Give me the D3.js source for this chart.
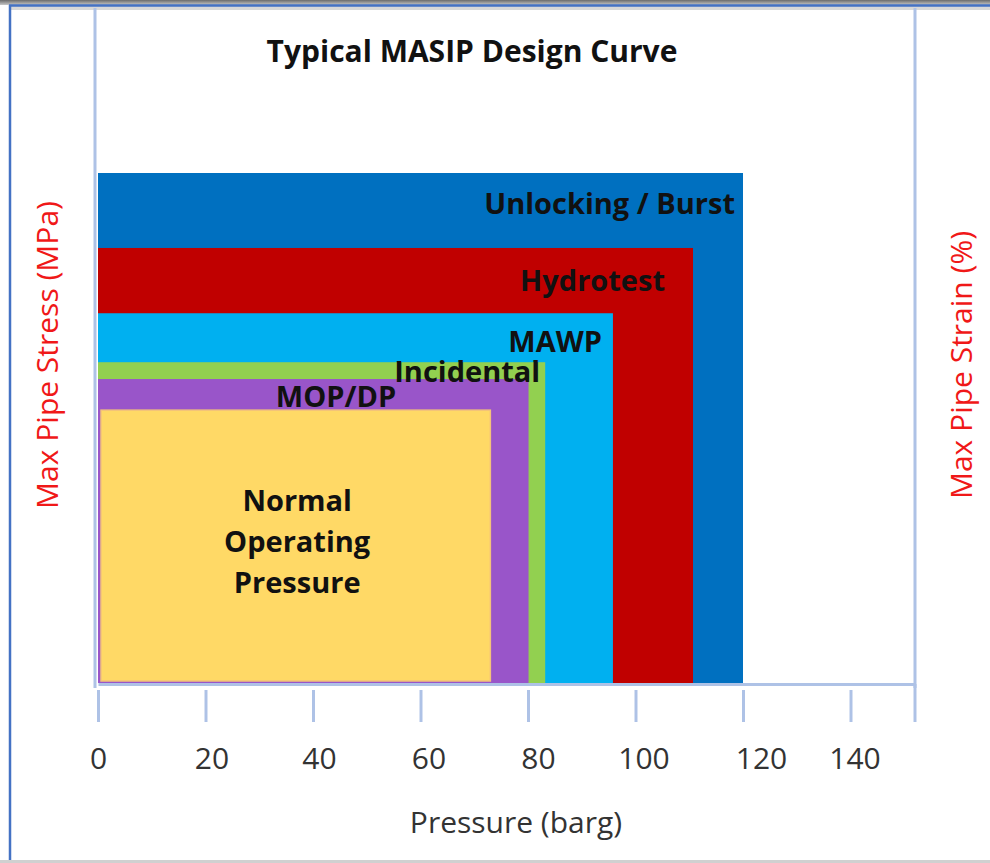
<!DOCTYPE html>
<html><head><meta charset="utf-8">
<script src="https://cdn.jsdelivr.net/npm/d3@7"></script>
<style>
html,body{margin:0;padding:0;background:#fff;}
svg{display:block;}
text{font-family:"Open Sans",Lato,sans-serif;}
</style></head>
<body>
<svg id="c" width="990" height="863"></svg>
<script>
// ---- data ----
const zones = ["Unlocking / Burst","Hydrotest","MAWP","Incidental","MOP/DP","Normal Operating Pressure"];
const zonePressure = [120, 110.7, 95.8, 83.2, 80.1, 73.0];     // barg (right edge)
const zoneStress   = [100, 85.3, 72.5, 62.9, 59.6, 53.5];      // relative stress level (top edge)
const zoneColors   = ["#0070C0","#C00000","#00B0F0","#92D050","#9955C9","#FFD966"];
const xTicks = [0,20,40,60,80,100,120,140];
const titleText = "Typical MASIP Design Curve";
const xTitle = "Pressure (barg)";
const yTitleLeft = "Max Pipe Stress (MPa)";
const yTitleRight = "Max Pipe Strain (%)";

// ---- layout ----
const svg = d3.select("#c");
const W = 990, H = 863;
const x = d3.scaleLinear().domain([0, 152]).range([98, 915]);
const y = d3.scaleLinear().domain([0, 100]).range([683, 173]);

// outer frame
svg.append("rect").attr("x",0).attr("y",0).attr("width",W).attr("height",H).attr("fill","#fff");
const g0 = svg.append("defs").append("linearGradient").attr("id","topg").attr("x1",0).attr("x2",0).attr("y1",0).attr("y2",1);
g0.append("stop").attr("offset","0").attr("stop-color","#6b6b6b");
g0.append("stop").attr("offset","1").attr("stop-color","#c8c8c8");
svg.append("rect").attr("x",0).attr("y",0).attr("width",W).attr("height",5).attr("fill","url(#topg)");
svg.append("rect").attr("x",9).attr("y",6).attr("width",W-9).attr("height",4).attr("fill","#d8d8d8");
svg.append("line").attr("x1",9).attr("x2",W).attr("y1",5.5).attr("y2",5.5).attr("stroke","#4472C4").attr("stroke-width",2.5);
svg.append("line").attr("x1",10).attr("x2",10).attr("y1",5).attr("y2",H).attr("stroke","#4472C4").attr("stroke-width",2.5);
svg.append("line").attr("x1",0).attr("x2",W).attr("y1",861.5).attr("y2",861.5).attr("stroke","#d0d0d0").attr("stroke-width",3);

const axisCol = "#aec2e6";
// vertical frame lines (left and right plot edges)
svg.append("line").attr("x1",x(0)-3).attr("x2",x(0)-3).attr("y1",8).attr("y2",688).attr("stroke",axisCol).attr("stroke-width",3);
svg.append("line").attr("x1",x.range()[1]).attr("x2",x.range()[1]).attr("y1",8).attr("y2",688).attr("stroke",axisCol).attr("stroke-width",3);

// zone rectangles
const zg = svg.append("g");
zones.forEach((z,i)=>{
  const last = i === zones.length-1;
  zg.append("rect")
    .attr("x", x(0) + (last?3:0))
    .attr("y", y(zoneStress[i]))
    .attr("width", x(zonePressure[i]) - x(0) - (last?3:0))
    .attr("height", y(0) - y(zoneStress[i]) - (last?2:0))
    .attr("fill", zoneColors[i])
    .attr("stroke", last ? "#f3c27a" : "none")
    .attr("stroke-width", last ? 1.5 : 0);
});

// x axis
const axis = d3.axisBottom(x).tickValues(xTicks).tickSize(32).tickSizeOuter(0).tickFormat(d3.format("d"));
const ax = svg.append("g").attr("transform","translate(0,684)").call(axis);
ax.select(".domain").attr("stroke",axisCol).attr("stroke-width",3);
ax.selectAll(".tick line").attr("stroke",axisCol).attr("stroke-width",3).attr("y1",6).attr("y2",38);
const labelDx = [0, 6, 6, 8, 10, 8, 18, 4];
ax.selectAll(".tick text").attr("fill","#333").attr("font-size",30).attr("y",85).attr("dy",0)
  .attr("dx",(d,i)=>labelDx[i])
  .attr("font-family","'Open Sans', sans-serif");
// end tick at the right limit
ax.append("line").attr("x1",x.range()[1]).attr("x2",x.range()[1]).attr("y1",0).attr("y2",38).attr("stroke",axisCol).attr("stroke-width",3);

// title
svg.append("text").attr("x",472).attr("y",62).attr("text-anchor","middle")
  .attr("font-size",30).attr("font-weight","bold").attr("fill","#111").text(titleText);

// axis titles
svg.append("text").attr("x",516).attr("y",833).attr("text-anchor","middle")
  .attr("font-size",30).attr("fill","#333").text(xTitle);
svg.append("text").attr("transform","translate(58,355) rotate(-90)").attr("text-anchor","middle")
  .attr("font-size",30).attr("fill","#f01818").text(yTitleLeft);
svg.append("text").attr("transform","translate(972,365) rotate(-90)").attr("text-anchor","middle")
  .attr("font-size",30).attr("fill","#f01818").text(yTitleRight);

// zone labels (anchor offsets relative to each zone's top-right corner)
const lblDx = [-8, -28, -11, -5, null];
const lblDy = [41, 43, 39, 20, 28];
const lbl = svg.append("g").attr("font-weight","bold").attr("font-size",29).attr("fill","#111");
for (let i=0;i<4;i++){
  lbl.append("text").attr("x", x(zonePressure[i]) + lblDx[i]).attr("y", y(zoneStress[i]) + lblDy[i])
    .attr("text-anchor","end").text(zones[i]);
}
lbl.append("text").attr("x", 336).attr("y", y(zoneStress[4]) + lblDy[4]).attr("text-anchor","middle").text(zones[4]);
const nop = ["Normal","Operating","Pressure"];
nop.forEach((t,k)=>{
  lbl.append("text").attr("x", (x(0)+x(zonePressure[5]))/2 + 3).attr("y", 511 + k*41)
    .attr("text-anchor","middle").text(t);
});
</script>
</body></html>
